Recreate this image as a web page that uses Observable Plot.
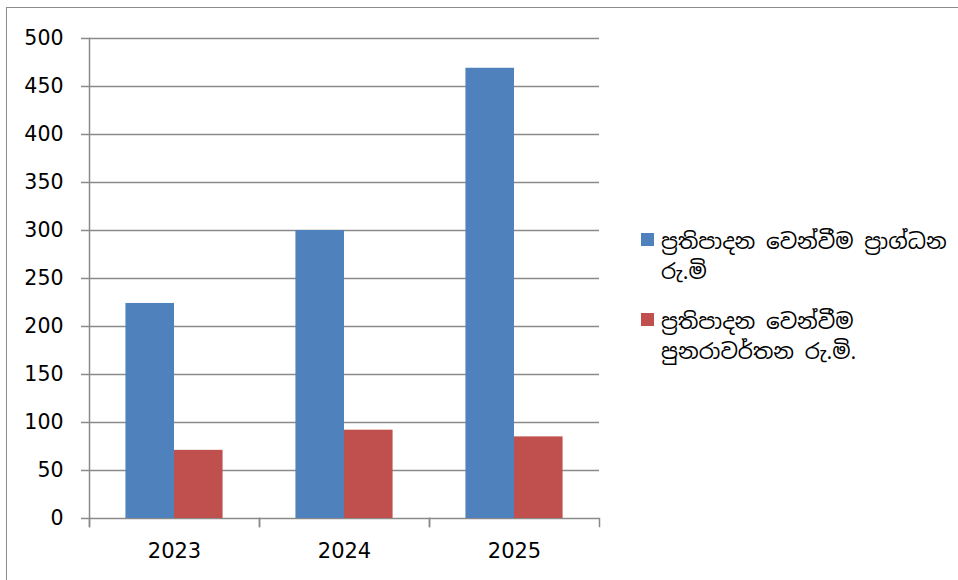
<!DOCTYPE html>
<html>
<head>
<meta charset="utf-8">
<script src="https://cdn.jsdelivr.net/npm/d3@7"></script>
<script src="https://cdn.jsdelivr.net/npm/@observablehq/plot@0.6"></script>
<style>
  body { margin: 0; background: #fff; }
  #wrap { position: relative; width: 958px; height: 580px; overflow: hidden; background: #fff; }
  #border { position: absolute; left: 6px; top: 7px; width: 1200px; height: 1200px;
            border-left: 1.5px solid #8c8c8c; border-top: 1.5px solid #8c8c8c; pointer-events: none; }
  #chart { position: absolute; left: 0; top: 0; }
  #legend { position: absolute; left: 641px; top: 226px; width: 316px;
            font-family: "Noto Sans Sinhala", "Iskoola Pota", "DejaVu Sans", "Noto Sans", sans-serif;
            font-size: 21.5px; line-height: 30px; color: #000; white-space: nowrap; }
  .item { position: relative; padding-left: 20px; margin-bottom: 20px; }
  .sw { position: absolute; left: 0; top: 7px; width: 13px; height: 13px; }
</style>
</head>
<body>
<div id="wrap">
  <div id="chart"></div>
  <div id="legend"></div>
  <div id="border"></div>
</div>
<script>
// ---- data ----
const years = ["2023", "2024", "2025"];
const seriesNames = [
  "ප්‍රතිපාදන වෙන්වීම ප්‍රාග්ධන රු.මි",
  "ප්‍රතිපාදන වෙන්වීම පුනරාවර්තන රු.මි."
];
const legendLines = [
  ["ප්‍රතිපාදන වෙන්වීම ප්‍රාග්ධන", "රු.මි"],
  ["ප්‍රතිපාදන වෙන්වීම", "පුනරාවර්තන රු.මි."]
];
const capitalValues = [224, 300, 469];
const recurrentValues = [71, 92, 85];
const yTicks = [0, 50, 100, 150, 200, 250, 300, 350, 400, 450, 500];
const seriesColors = ["#4f81bd", "#c0504d"];

const data = years.flatMap((yr, i) => [
  { year: yr, series: seriesNames[0], value: capitalValues[i] },
  { year: yr, series: seriesNames[1], value: recurrentValues[i] }
]);

const W = 958, H = 580, mL = 88, mR = 358, mT = 38, mB = 62;
const plotH = H - mT - mB;
const gray = "#8a8a8a";

const chart = Plot.plot({
  width: W, height: H,
  marginLeft: mL, marginRight: mR, marginTop: mT, marginBottom: mB,
  style: { fontFamily: "'DejaVu Sans', sans-serif", fontSize: "20.5px", color: "#000", background: "transparent", overflow: "visible" },
  fx: { domain: years, padding: 0, label: null, axis: null },
  x: { domain: seriesNames, paddingInner: 0, paddingOuter: 0.75, round: false, axis: null },
  y: { domain: [0, 500], axis: null },
  color: { domain: seriesNames, range: seriesColors },
  marks: [
    Plot.ruleY(yTicks, { stroke: gray, strokeWidth: 1.5 }),
    Plot.barY(data, { fx: "year", x: "series", y: "value", fill: "series" }),
    // category boundary ticks below the baseline
    Plot.frame({ anchor: "left", stroke: gray, strokeWidth: 1.5, insetTop: plotH, insetBottom: -8 }),
    Plot.frame({ anchor: "right", stroke: gray, strokeWidth: 1.5, insetTop: plotH, insetBottom: -8 }),
    // y axis line
    Plot.frame({ anchor: "left", facetAnchor: "left", stroke: gray, strokeWidth: 1.5, insetBottom: -8 }),
    Plot.axisY(yTicks, { anchor: "left", tickSize: 8, tickPadding: 18, stroke: gray, strokeWidth: 1.5, strokeOpacity: 1, fill: "#000", label: null, fontSize: 20.5 }),
    Plot.axisFx({ anchor: "bottom", tickSize: 0, tickPadding: 25, label: null, fontSize: 21, fill: "#000" })
  ]
});
document.getElementById("chart").appendChild(chart);

const legend = document.getElementById("legend");
seriesNames.forEach((name, i) => {
  const item = document.createElement("div");
  item.className = "item";
  const sw = document.createElement("span");
  sw.className = "sw";
  sw.style.background = seriesColors[i];
  item.appendChild(sw);
  legendLines[i].forEach(line => {
    const l = document.createElement("div");
    l.textContent = line;
    item.appendChild(l);
  });
  legend.appendChild(item);
});
</script>
</body>
</html>
